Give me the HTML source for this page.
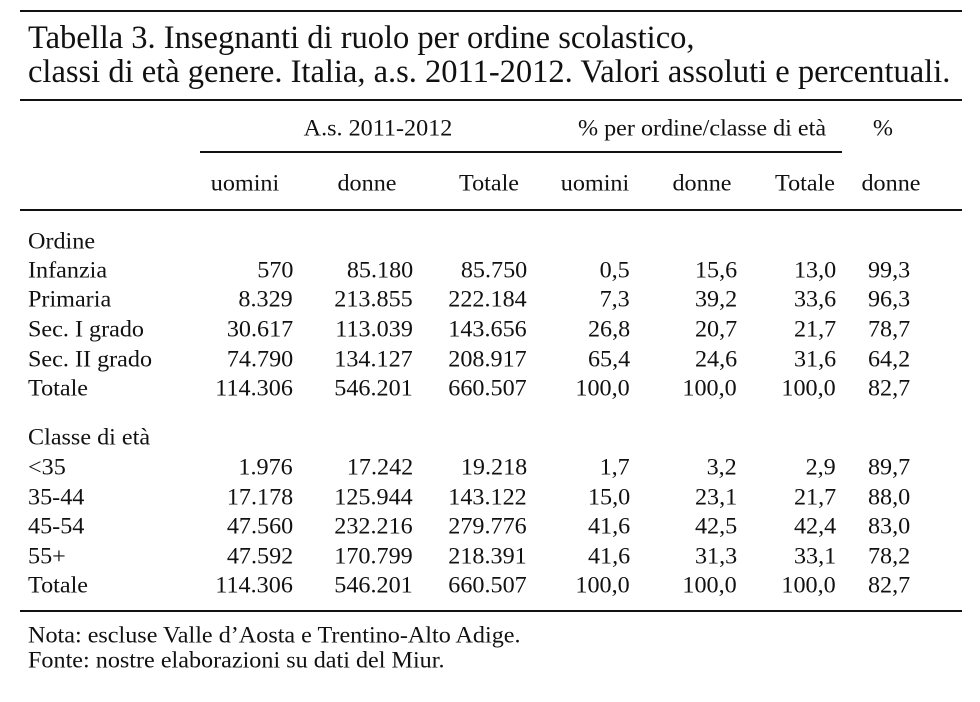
<!DOCTYPE html>
<html><head><meta charset="utf-8"><style>
body{margin:0;width:980px;height:702px;background:#fff;position:relative;overflow:hidden;font-family:"Liberation Serif",serif;color:#111}
.t{position:absolute;white-space:nowrap;line-height:1;transform:translateY(-50%) scaleX(1.05);transform-origin:left center}
.r{position:absolute;white-space:nowrap;line-height:1;transform:translateY(-50%) scaleX(1.05);transform-origin:right center;text-align:right}
.c{position:absolute;white-space:nowrap;line-height:1;transform:translate(-50%,-50%) scaleX(1.05);transform-origin:center center}
.l{position:absolute;background:#111}
.b{font-size:23px}
.tt{position:absolute;white-space:nowrap;line-height:1;transform:translateY(-50%);font-size:32.5px}
</style></head><body>
<div class="l" style="left:20px;top:10px;width:942px;height:2px"></div>
<div class="tt" style="left:28px;top:38px">Tabella 3. Insegnanti di ruolo per ordine scolastico,</div>
<div class="tt" style="left:28px;top:72px">classi di età genere. Italia, a.s. 2011-2012. Valori assoluti e percentuali.</div>
<div class="l" style="left:20px;top:99px;width:942px;height:2px"></div>
<div class="c b" style="left:378px;top:128px">A.s. 2011-2012</div>
<div class="c b" style="left:702px;top:128px">% per ordine/classe di età</div>
<div class="c b" style="left:883px;top:128px">%</div>
<div class="l" style="left:200px;top:151px;width:642px;height:1.5px"></div>
<div class="c b" style="left:245px;top:183px">uomini</div>
<div class="c b" style="left:367px;top:183px">donne</div>
<div class="c b" style="left:489px;top:183px">Totale</div>
<div class="c b" style="left:595px;top:183px">uomini</div>
<div class="c b" style="left:702px;top:183px">donne</div>
<div class="c b" style="left:805px;top:183px">Totale</div>
<div class="c b" style="left:891px;top:183px">donne</div>
<div class="l" style="left:20px;top:209px;width:942px;height:2px"></div>

<div class="t b" style="left:28px;top:241px">Ordine</div>
<div class="t b" style="left:28px;top:437px">Classe di età</div>

<div id="rows"></div>
<script>
var rows=[
[270,"Infanzia","570","85.180","85.750","0,5","15,6","13,0","99,3"],
[299,"Primaria","8.329","213.855","222.184","7,3","39,2","33,6","96,3"],
[329,"Sec. I grado","30.617","113.039","143.656","26,8","20,7","21,7","78,7"],
[359,"Sec. II grado","74.790","134.127","208.917","65,4","24,6","31,6","64,2"],
[388,"Totale","114.306","546.201","660.507","100,0","100,0","100,0","82,7"],
[467,"<35","1.976","17.242","19.218","1,7","3,2","2,9","89,7"],
[497,"35-44","17.178","125.944","143.122","15,0","23,1","21,7","88,0"],
[526,"45-54","47.560","232.216","279.776","41,6","42,5","42,4","83,0"],
[556,"55+","47.592","170.799","218.391","41,6","31,3","33,1","78,2"],
[585,"Totale","114.306","546.201","660.507","100,0","100,0","100,0","82,7"]];
var R=[293,413,527,630,737,836,910],h="";
rows.forEach(function(r){
 h+='<div class="t b" style="left:28px;top:'+r[0]+'px">'+r[1].replace("<","&lt;")+'</div>';
 for(var i=0;i<7;i++)h+='<div class="r b" style="right:'+(980-R[i])+'px;top:'+r[0]+'px">'+r[i+2]+'</div>';
});
document.getElementById("rows").innerHTML=h;
</script>
<div class="l" style="left:20px;top:610px;width:942px;height:2px"></div>
<div class="t b" style="left:28px;top:635px">Nota: escluse Valle d’Aosta e Trentino-Alto Adige.</div>
<div class="t b" style="left:28px;top:660px">Fonte: nostre elaborazioni su dati del Miur.</div>
</body></html>
